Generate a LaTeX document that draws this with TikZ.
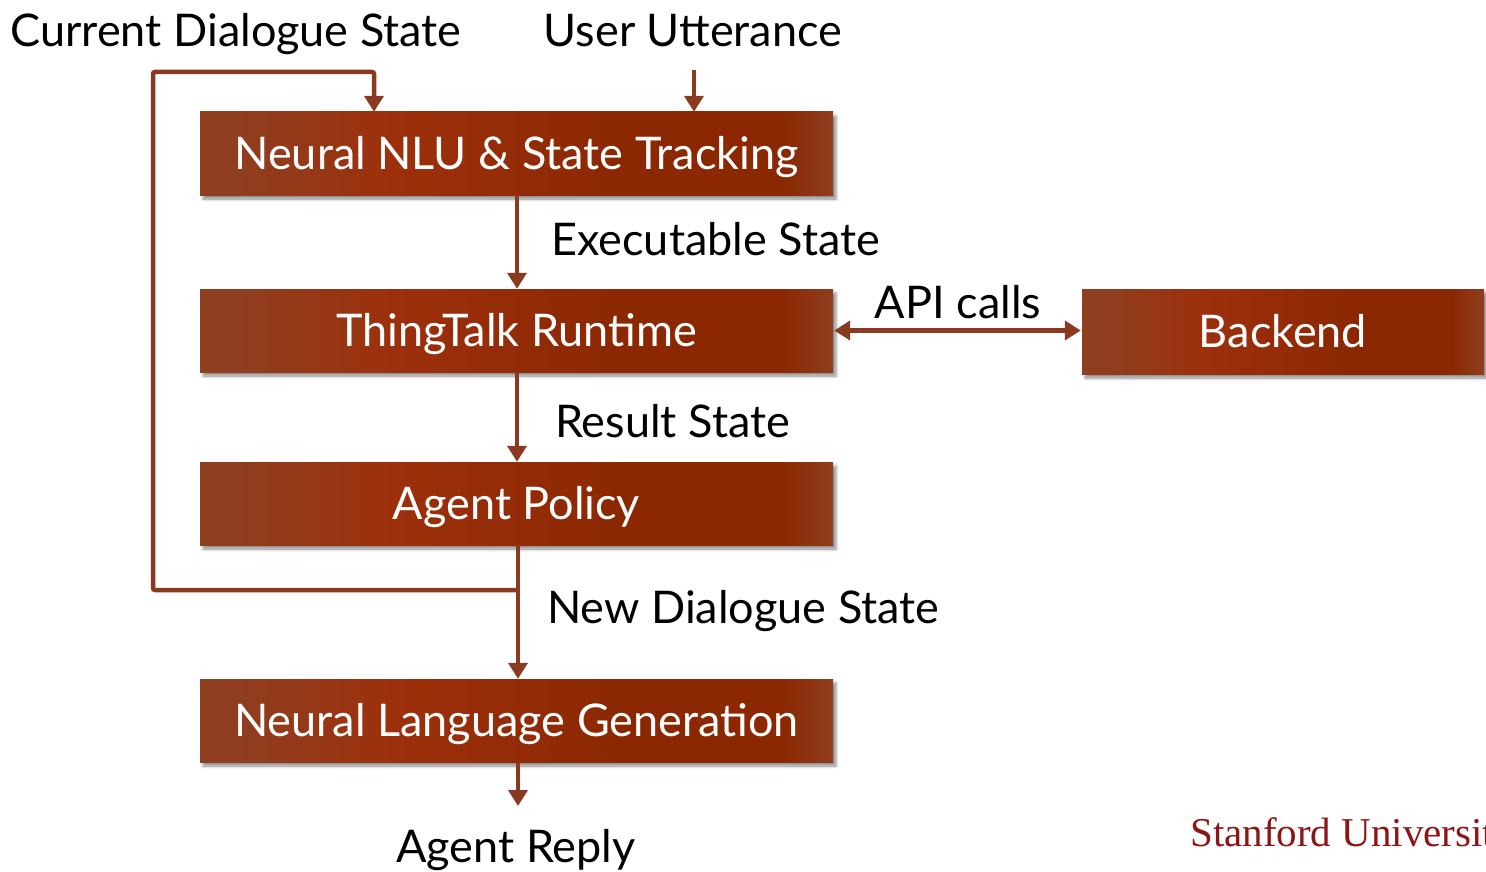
\documentclass[tikz,border=0pt]{standalone}
\usepackage{fontspec}
\setmainfont{Lato}
\newfontfamily\uniserif{Liberation Serif}
\usetikzlibrary{arrows.meta,shadows.blur}

\definecolor{boxedge}{RGB}{143,62,32}
\definecolor{boxmid}{RGB}{157,48,12}
\definecolor{boxdark}{RGB}{139,40,2}
\definecolor{wire}{RGB}{139,58,34}
\definecolor{cardinal}{RGB}{140,21,21}

\pgfdeclarehorizontalshading{boxshade}{100bp}{%
  color(0bp)=(boxedge); color(25bp)=(boxedge); color(28bp)=(boxedge);
  color(40bp)=(boxmid); color(58bp)=(boxdark); color(71bp)=(boxdark);
  color(75bp)=(boxedge); color(100bp)=(boxedge)}

\tikzset{
  stage/.style={shading=boxshade, minimum width=633pt, minimum height=83pt,
    inner sep=0pt, text=white, font=\fontsize{45}{52}\selectfont,
    text height=32pt, text depth=0pt,
    blur shadow={shadow xshift=3pt, shadow yshift=-4pt,
      shadow blur radius=3pt, shadow opacity=45}},
  lbl/.style={inner sep=0pt, font=\fontsize{45}{52}\selectfont},
  tip/.tip={Triangle[width=19pt,length=16pt]},
  flow/.style={draw=wire, line width=4.5pt, -tip},
  link/.style={draw=wire, line width=4.5pt}
}

\begin{document}
\begin{tikzpicture}[x=1pt,y=-1pt]
  \useasboundingbox (0,0) rectangle (1486,872);

  % processing stages
  \node[stage] (nlu)  at (516.5,153.5) {Neural NLU \& State Tracking};
  \node[stage] (tt)   at (516.5,330.5) {ThingTalk Runtime};
  \node[stage] (pol)  at (516.5,503.5) {Agent Policy};
  \node[stage] (nlg)  at (516.5,720.5) {Neural Language Generation};
  \node[stage, minimum width=402pt, minimum height=85pt] (be) at (1283,331.5) {Backend};

  % inputs and outputs
  \node[lbl, anchor=base] (cds) at (236,47) {Current Dialogue State};
  \node[lbl, anchor=base] (uu)  at (693,47) {User Utterance};
  \node[lbl, anchor=base] (rep) at (516,862) {Agent Reply};

  % edge labels
  \node[lbl, anchor=base west] (l1) at (551,255) {Executable State};
  \node[lbl, anchor=base west] (l2) at (555,437) {Result State};
  \node[lbl, anchor=base west] (l3) at (547,623) {New Dialogue State};
  \node[lbl, anchor=base] (l4) at (958,318) {API calls};

  \node[inner sep=0pt, anchor=base west, text=cardinal,
    font=\uniserif\fontsize{41}{46}\selectfont] (su) at (1190,846) {Stanford University};

  % connector anchor points
  \coordinate (uuin) at (694,70);
  \coordinate (split) at (518,590);
  \coordinate (replyend) at (518,806);

  % main flow
  \draw[flow] (uuin) -- (uuin |- nlu.north);
  \draw[flow] (nlu.south -| 517,0) -- (tt.north -| 517,0);
  \draw[flow] (tt.south -| 517,0) -- (pol.north -| 517,0);
  \draw[flow] (pol.south -| split) -- (nlg.north -| split);
  \draw[flow] (nlg.south -| split) -- (replyend);
  \draw[link, tip-tip] ([xshift=1pt]tt.east) -- ([xshift=-1pt]be.west |- tt.east);

  % feedback loop of the dialogue state
  \draw[flow, rounded corners=2pt] (split) -- (153,590) -- (153,72) -- (374,72) -- (374,0 |- nlu.north);
\end{tikzpicture}
\end{document}
